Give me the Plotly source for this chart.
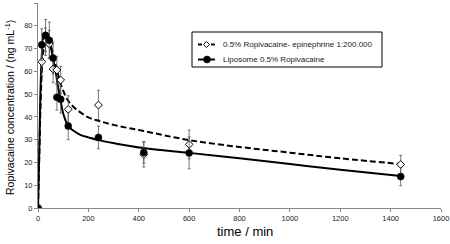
import plotly.graph_objects as go

# Observed data
t_obs = [0, 15, 30, 45, 60, 75, 90, 120, 240, 420, 600, 1440]
lipo_mean = [0, 71.7, 75.8, 73.6, 65.8, 48.6, 47.7, 36.0, 31.0, 24.4, 24.2, 13.8]
lipo_sd = [0, 7, 7, 8, 7, 5.6, 6, 6, 5, 4.7, 7, 4]
epi_mean = [0, 64.2, 73.0, 72.0, 61.0, 60.6, 56.2, 43.3, 45.2, 23.5, 27.9, 19.1]
epi_sd = [0, 6, 6, 6, 6, 6, 6, 6, 6.5, 5.5, 6.3, 4]

# Fitted curves
t_fit_lipo = [0, 5, 10, 15, 20, 25, 30, 40, 50, 60, 70, 80, 90, 100, 120, 140, 170, 200, 240, 300, 420, 600, 800, 1000, 1200, 1440]
c_fit_lipo = [0, 25, 52, 67, 74, 76, 76, 74.5, 71, 65.5, 60, 53, 47, 41.5, 36, 34, 32, 31, 29.8, 28.5, 26.3, 24.2, 21.8, 19.3, 16.8, 14]
t_fit_epi = [0, 5, 10, 15, 20, 25, 30, 35, 40, 50, 60, 70, 80, 90, 100, 120, 150, 200, 240, 300, 420, 600, 800, 1000, 1200, 1440]
c_fit_epi = [0, 22, 45, 60, 68, 72, 74, 74.5, 74, 71.5, 67.5, 63, 58.5, 54.5, 51.5, 47, 43.5, 39.8, 38.3, 36.5, 33.8, 29.8, 26.8, 24.3, 21.8, 19.3]

x_ticks = [0, 200, 400, 600, 800, 1000, 1200, 1400, 1600]
y_ticks = [0, 10, 20, 30, 40, 50, 60, 70, 80, 90]

label_epi = "0.5% Ropivacaine- epinephrine 1:200.000"
label_lipo = "Liposome 0.5% Ropivacaine"
x_title = "time / min"
y_title = "Ropivacaine concentration / (ng mL<sup>-1</sup>)"

FONT = "Arial, Liberation Sans, sans-serif"

# plot area in pixels
W, H = 450, 244
ML, MR, MT, MB = 38, 9, 3, 36
PW, PH = W - ML - MR, H - MT - MB


def px(x):
    return (x - ML) / PW


def py(y):
    return (H - MB - y) / PH


fig = go.Figure()

fig.add_trace(go.Scatter(x=t_fit_epi, y=c_fit_epi, mode="lines",
                         line=dict(color="black", width=2, dash="6px,3px", shape="spline"),
                         showlegend=False, hoverinfo="skip"))
fig.add_trace(go.Scatter(x=t_fit_lipo, y=c_fit_lipo, mode="lines",
                         line=dict(color="black", width=2, shape="spline"),
                         showlegend=False, hoverinfo="skip"))

fig.add_trace(go.Scatter(x=t_obs, y=epi_mean, mode="markers", name=label_epi,
                         marker=dict(symbol="diamond", size=6, color="white",
                                     line=dict(color="black", width=1)),
                         error_y=dict(type="data", array=epi_sd, color="#555", thickness=0.8, width=1.5),
                         showlegend=False))
fig.add_trace(go.Scatter(x=t_obs, y=lipo_mean, mode="markers", name=label_lipo,
                         marker=dict(symbol="circle", size=7, color="black",
                                     line=dict(color="black", width=0.5)),
                         error_y=dict(type="data", array=lipo_sd, color="#555", thickness=0.8, width=1.5),
                         showlegend=False))

# manual legend (box, symbols, text)
shapes = [dict(type="rect", xref="paper", yref="paper",
               x0=px(192), x1=px(382), y0=py(67), y1=py(32),
               line=dict(color="black", width=1), fillcolor="white", layer="above")]
r1, r2 = py(44.5), py(59.5)
for a, b in [(198, 202), (211, 215)]:
    shapes.append(dict(type="line", xref="paper", yref="paper", x0=px(a), x1=px(b), y0=r1, y1=r1,
                       line=dict(color="black", width=2), layer="above"))
shapes.append(dict(type="path", xref="paper", yref="paper", xsizemode="pixel", ysizemode="pixel",
                   xanchor=px(206.5), yanchor=r1, path="M -3,0 L 0,3 L 3,0 L 0,-3 Z",
                   line=dict(color="black", width=1), fillcolor="white", layer="above"))
shapes.append(dict(type="line", xref="paper", yref="paper", x0=px(198), x1=px(215), y0=r2, y1=r2,
                   line=dict(color="black", width=2), layer="above"))
shapes.append(dict(type="circle", xref="paper", yref="paper", xsizemode="pixel", ysizemode="pixel",
                   xanchor=px(207), yanchor=r2, x0=-3.5, x1=3.5, y0=-3.5, y1=3.5,
                   line=dict(color="black", width=0.5), fillcolor="black", layer="above"))

annotations = [
    dict(text=label_epi, xref="paper", yref="paper", x=px(221), y=r1, xanchor="left", yanchor="middle",
         showarrow=False, font=dict(size=8, family=FONT, color="#222")),
    dict(text=label_lipo, xref="paper", yref="paper", x=px(221), y=r2, xanchor="left", yanchor="middle",
         showarrow=False, font=dict(size=8, family=FONT, color="#222")),
    dict(text=x_title, xref="paper", yref="paper", x=px(245), y=py(231), xanchor="center", yanchor="middle",
         showarrow=False, font=dict(size=13, family=FONT, color="black")),
    dict(text=y_title, xref="paper", yref="paper", x=px(9), y=py(108), xanchor="center", yanchor="middle",
         textangle=-90, showarrow=False, font=dict(size=10.5, family=FONT, color="black")),
]

fig.update_layout(
    template="none",
    width=W, height=H,
    margin=dict(l=ML, r=MR, t=MT, b=MB, autoexpand=False),
    paper_bgcolor="white", plot_bgcolor="white",
    font=dict(family=FONT, color="#222", size=7.5),
    showlegend=False,
    shapes=shapes, annotations=annotations,
    xaxis=dict(range=[0, 1600], tickvals=x_ticks, automargin=False,
               showgrid=False, zeroline=False, showline=True, linecolor="#888", linewidth=1,
               ticks="outside", ticklen=3, tickcolor="#888",
               tickfont=dict(size=7.5, color="#222")),
    yaxis=dict(range=[0, 90], tickvals=y_ticks, automargin=False,
               showgrid=False, zeroline=False, showline=True, linecolor="#888", linewidth=1,
               ticks="outside", ticklen=3, tickcolor="#888",
               tickfont=dict(size=7.5, color="#222")),
)

fig.write_html("out.html", config={"displayModeBar": False},
               post_script="document.body.style.margin='0';document.body.style.overflow='hidden';")
